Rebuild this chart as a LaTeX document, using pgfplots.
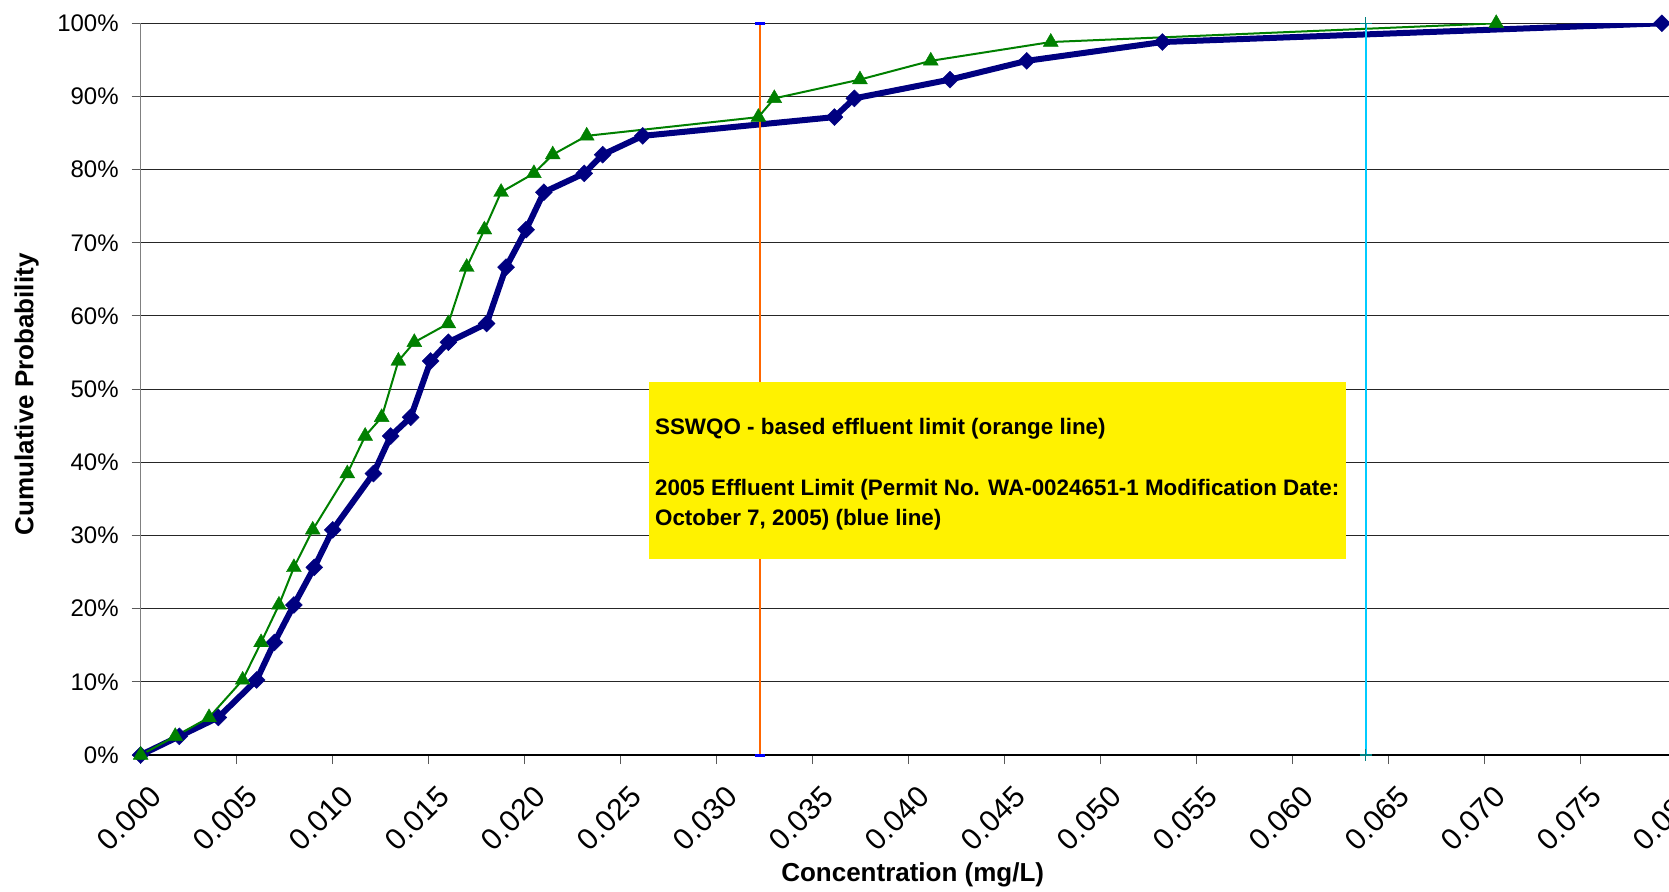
\documentclass[border=0pt]{standalone}
\usepackage{fontspec}
\setmainfont{Liberation Sans}
\usepackage{pgfplots}
\pgfplotsset{compat=1.18}
\definecolor{navyblue}{HTML}{000080}
\definecolor{xlgreen}{HTML}{008000}
\definecolor{limorange}{HTML}{FF6600}
\definecolor{limcyan}{HTML}{00CCFF}
\definecolor{limteal}{HTML}{008080}

% cumulative probability (%) against concentration (mg/L)
\pgfplotstableread{
x y
0       0
0.00201 2.56
0.00404 5.13
0.00604 10.26
0.00696 15.38
0.00798 20.51
0.00904 25.64
0.0100  30.77
0.01212 38.46
0.01302 43.59
0.01406 46.15
0.0151  53.85
0.01602 56.41
0.01802 58.97
0.01903 66.67
0.02007 71.79
0.0210  76.92
0.0231  79.49
0.02406 82.05
0.02615 84.62
0.03613 87.18
0.03717 89.74
0.04215 92.31
0.04615 94.87
0.05321 97.44
0.07923 100
}\bluedata

\pgfplotstableread{
x y
0       0
0.0018  2.56
0.00356 5.13
0.00531 10.26
0.00627 15.38
0.0072  20.51
0.00798 25.64
0.00896 30.77
0.01076 38.46
0.01169 43.59
0.01255 46.15
0.01342 53.85
0.01425 56.41
0.01602 58.97
0.01698 66.67
0.0179  71.79
0.01877 76.92
0.02048 79.49
0.02146 82.05
0.02323 84.62
0.03217 87.18
0.033   89.74
0.03746 92.31
0.04115 94.87
0.0474  97.44
0.0706  100
}\greendata

\begin{document}
\begin{tikzpicture}
\begin{axis}[
  scale only axis,
  width=768pt, height=365.85pt,
  xmin=0, xmax=0.08, ymin=0, ymax=100,
  axis lines*=left,
  x axis line style={black, line width=0.6pt},
  y axis line style={gray, line width=0.6pt},
  xtick={0,0.005,0.01,0.015,0.02,0.025,0.03,0.035,0.04,0.045,0.05,0.055,0.06,0.065,0.07,0.075,0.08},
  scaled x ticks=false,
  ytick={0,10,20,30,40,50,60,70,80,90,100},
  yticklabels={0\%,10\%,20\%,30\%,40\%,50\%,60\%,70\%,80\%,90\%,100\%},
  ymajorgrids,
  major grid style={black!85, line width=0.5pt},
  tick align=outside,
  major tick length=4.5pt,
  tick style={gray!70!black, line width=0.5pt},
  yticklabel style={font=\fontsize{12}{14}\selectfont, xshift=-3pt},
  xticklabel style={font=\fontsize{15}{18}\selectfont,
    rotate=45, anchor=east, yshift=-15pt, xshift=-1pt,
    /pgf/number format/fixed, /pgf/number format/fixed zerofill,
    /pgf/number format/precision=3},
  /pgf/number format/assume math mode=true,
  xlabel={Concentration (mg/L)},
  ylabel={Cumulative Probability},
  label style={font=\bfseries\fontsize{13}{15}\selectfont},
  xlabel style={at={(axis description cs:0.5026,-0.164)}, anchor=center},
  ylabel style={at={(axis description cs:-0.0742,0.493)}, anchor=center},
]
\addplot[navyblue, line width=3pt, mark=square*, mark size=3pt,
  mark options={rotate=45, solid, line width=0.2pt}] table {\bluedata};
\addplot[xlgreen, line width=1pt, mark=triangle*, mark size=4.3pt,
  mark options={solid, line width=0.2pt}] table {\greendata};
\addplot[limorange, line width=1pt, mark=-, mark size=2.5pt,
  mark options={blue, line width=1.5pt}] coordinates {(0.03227,0) (0.03227,100)};
\addplot[limcyan, line width=1pt, mark=+, mark size=3pt,
  mark options={limteal, line width=0.8pt}] coordinates {(0.0638,0) (0.0638,100)};
\fill[yellow] (axis cs:0.02647,50.98) rectangle (axis cs:0.0628,26.79);
\node[anchor=base west, inner sep=0pt, font=\bfseries\fontsize{11.2}{14}\selectfont]
  at (axis cs:0.02677,43.87) {SSWQO - based effluent limit (orange line)};
\node[anchor=base west, inner sep=0pt, font=\bfseries\fontsize{11.2}{14}\selectfont]
  at (axis cs:0.02677,35.53) {2005 Effluent Limit (Permit No. WA-0024651-1 Modification Date:};
\node[anchor=base west, inner sep=0pt, font=\bfseries\fontsize{11.2}{14}\selectfont]
  at (axis cs:0.02677,31.43) {October 7, 2005) (blue line)};
\end{axis}
\pgfresetboundingbox
\path[use as bounding box] (-70.35pt,-68pt) rectangle (764.15pt,377.5pt);
\end{tikzpicture}
\end{document}
